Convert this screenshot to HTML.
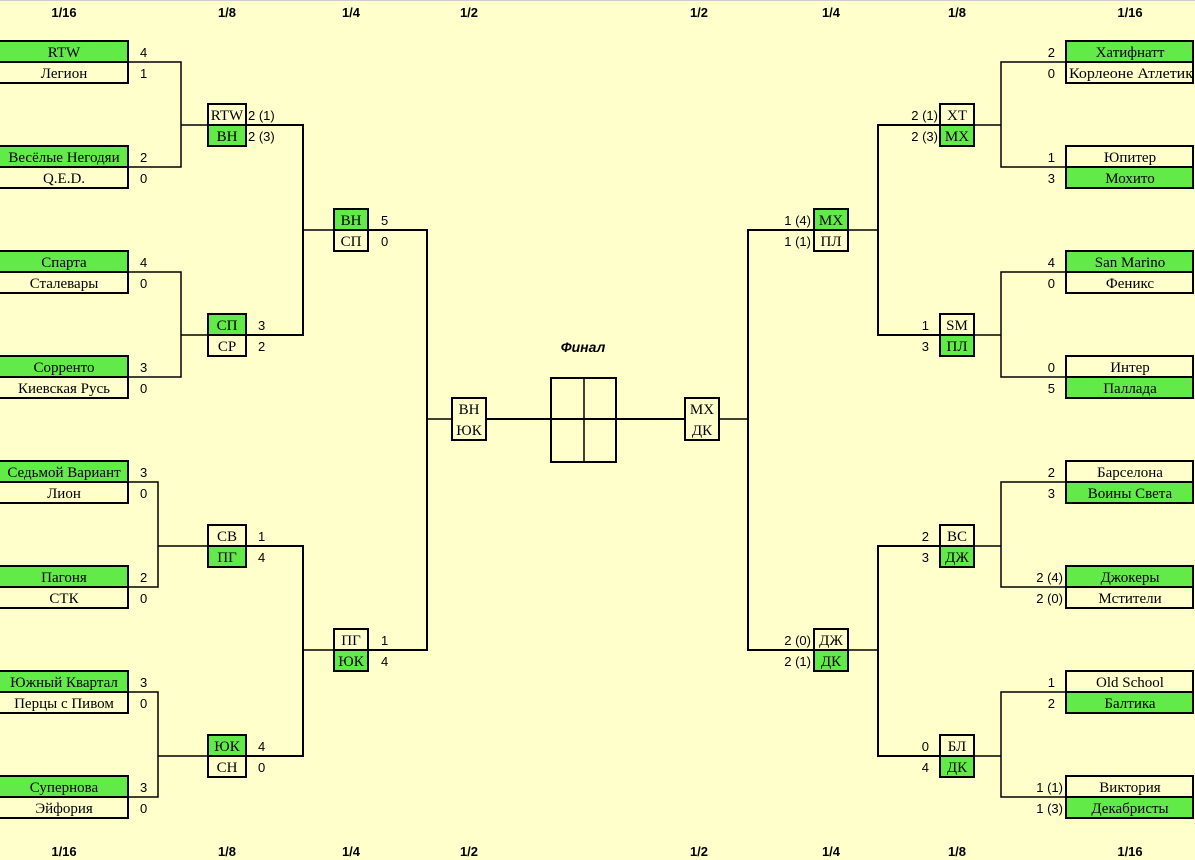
<!DOCTYPE html>
<html><head><meta charset="utf-8"><style>
html,body{margin:0;padding:0;background:#ffffcc;}
svg{display:block}
.n{font-family:"Liberation Serif","DejaVu Serif",serif;font-size:15px;fill:#000;text-anchor:middle}
.s{font-family:"Liberation Sans","DejaVu Sans",sans-serif;font-size:13px;fill:#000}
.h{font-family:"Liberation Sans","DejaVu Sans",sans-serif;font-size:13px;font-weight:bold;fill:#000;text-anchor:middle}
.e{text-anchor:end}
</style></head><body>
<svg width="1195" height="860" viewBox="0 0 1195 860" xmlns="http://www.w3.org/2000/svg">
<rect x="0" y="0" width="1195" height="860" fill="#ffffcc"/>
<line x1="0" y1="0.5" x2="1195" y2="0.5" stroke="#ccc"/>
<g>
<text class="h" x="64" y="17">1/16</text><text class="h" x="227" y="17">1/8</text><text class="h" x="351" y="17">1/4</text><text class="h" x="469" y="17">1/2</text>
<text class="h" x="699" y="17">1/2</text><text class="h" x="831" y="17">1/4</text><text class="h" x="957" y="17">1/8</text><text class="h" x="1130" y="17">1/16</text>
<text class="h" x="64" y="856">1/16</text><text class="h" x="227" y="856">1/8</text><text class="h" x="351" y="856">1/4</text><text class="h" x="469" y="856">1/2</text>
<text class="h" x="699" y="856">1/2</text><text class="h" x="831" y="856">1/4</text><text class="h" x="957" y="856">1/8</text><text class="h" x="1130" y="856">1/16</text>
</g>
<g stroke="#000" fill="none" stroke-width="1.5">
<polyline points="128,62 181,62 181,167 128,167"/>
<polyline points="128,272 181,272 181,377 128,377"/>
<polyline points="128,482 158,482 158,587 128,587"/>
<polyline points="128,692 158,692 158,797 128,797"/>
<line x1="181" y1="125" x2="208" y2="125"/><line x1="181" y1="335" x2="208" y2="335"/>
<line x1="158" y1="546" x2="208" y2="546"/><line x1="158" y1="756" x2="208" y2="756"/>
<line x1="303" y1="230" x2="334" y2="230"/><line x1="303" y1="650" x2="334" y2="650"/>
<line x1="427" y1="419" x2="452" y2="419"/>
<polyline points="1066,62 1001,62 1001,167 1066,167"/>
<polyline points="1066,272 1001,272 1001,377 1066,377"/>
<polyline points="1066,482 1001,482 1001,587 1066,587"/>
<polyline points="1066,692 1001,692 1001,797 1066,797"/>
<line x1="974" y1="125" x2="1001" y2="125"/><line x1="974" y1="335" x2="1001" y2="335"/>
<line x1="974" y1="546" x2="1001" y2="546"/><line x1="974" y1="756" x2="1001" y2="756"/>
<line x1="848" y1="230" x2="878" y2="230"/><line x1="848" y1="650" x2="878" y2="650"/>
<line x1="719" y1="419" x2="748" y2="419"/>
</g>
<g stroke="#000" fill="none" stroke-width="2">
<polyline points="246,125 303,125 303,335 246,335"/>
<polyline points="246,546 303,546 303,756 246,756"/>
<polyline points="368,230 427,230 427,650 368,650"/>
<line x1="486" y1="419" x2="685" y2="419"/>
<polyline points="814,230 748,230 748,650 814,650"/>
<polyline points="940,125 878,125 878,335 940,335"/>
<polyline points="940,546 878,546 878,756 940,756"/>
</g>
<rect x="551" y="378" width="65" height="84" fill="none" stroke="#000" stroke-width="2"/>
<line x1="584" y1="378" x2="584" y2="462" stroke="#000" stroke-width="1.5"/>
<text x="583" y="352" style="font-family:'Liberation Sans',sans-serif;font-size:14px;font-weight:bold;font-style:italic;text-anchor:middle">Финал</text>

<g stroke="#000" stroke-width="2">
<rect x="-2" y="41" width="130" height="21" fill="#62ea48"/><rect x="-2" y="62" width="130" height="21" fill="#ffffcc"/>
<rect x="-2" y="146" width="130" height="21" fill="#62ea48"/><rect x="-2" y="167" width="130" height="21" fill="#ffffcc"/>
<rect x="-2" y="251" width="130" height="21" fill="#62ea48"/><rect x="-2" y="272" width="130" height="21" fill="#ffffcc"/>
<rect x="-2" y="356" width="130" height="21" fill="#62ea48"/><rect x="-2" y="377" width="130" height="21" fill="#ffffcc"/>
<rect x="-2" y="461" width="130" height="21" fill="#62ea48"/><rect x="-2" y="482" width="130" height="21" fill="#ffffcc"/>
<rect x="-2" y="566" width="130" height="21" fill="#62ea48"/><rect x="-2" y="587" width="130" height="21" fill="#ffffcc"/>
<rect x="-2" y="671" width="130" height="21" fill="#62ea48"/><rect x="-2" y="692" width="130" height="21" fill="#ffffcc"/>
<rect x="-2" y="776" width="130" height="21" fill="#62ea48"/><rect x="-2" y="797" width="130" height="21" fill="#ffffcc"/>
<rect x="208" y="104" width="38" height="21" fill="#ffffcc"/><rect x="208" y="125" width="38" height="21" fill="#62ea48"/>
<rect x="208" y="314" width="38" height="21" fill="#62ea48"/><rect x="208" y="335" width="38" height="21" fill="#ffffcc"/>
<rect x="208" y="525" width="38" height="21" fill="#ffffcc"/><rect x="208" y="546" width="38" height="21" fill="#62ea48"/>
<rect x="208" y="735" width="38" height="21" fill="#62ea48"/><rect x="208" y="756" width="38" height="21" fill="#ffffcc"/>
<rect x="334" y="209" width="34" height="21" fill="#62ea48"/><rect x="334" y="230" width="34" height="21" fill="#ffffcc"/>
<rect x="334" y="629" width="34" height="21" fill="#ffffcc"/><rect x="334" y="650" width="34" height="21" fill="#62ea48"/>
<rect x="452" y="398" width="34" height="42" fill="#ffffcc"/>
<rect x="685" y="398" width="34" height="42" fill="#ffffcc"/>
<rect x="814" y="209" width="34" height="21" fill="#62ea48"/><rect x="814" y="230" width="34" height="21" fill="#ffffcc"/>
<rect x="814" y="629" width="34" height="21" fill="#ffffcc"/><rect x="814" y="650" width="34" height="21" fill="#62ea48"/>
<rect x="940" y="104" width="34" height="21" fill="#ffffcc"/><rect x="940" y="125" width="34" height="21" fill="#62ea48"/>
<rect x="940" y="314" width="34" height="21" fill="#ffffcc"/><rect x="940" y="335" width="34" height="21" fill="#62ea48"/>
<rect x="940" y="525" width="34" height="21" fill="#ffffcc"/><rect x="940" y="546" width="34" height="21" fill="#62ea48"/>
<rect x="940" y="735" width="34" height="21" fill="#ffffcc"/><rect x="940" y="756" width="34" height="21" fill="#62ea48"/>
<rect x="1066" y="41" width="127" height="21" fill="#62ea48"/><rect x="1066" y="62" width="127" height="21" fill="#ffffcc"/>
<rect x="1066" y="146" width="127" height="21" fill="#ffffcc"/><rect x="1066" y="167" width="127" height="21" fill="#62ea48"/>
<rect x="1066" y="251" width="127" height="21" fill="#62ea48"/><rect x="1066" y="272" width="127" height="21" fill="#ffffcc"/>
<rect x="1066" y="356" width="127" height="21" fill="#ffffcc"/><rect x="1066" y="377" width="127" height="21" fill="#62ea48"/>
<rect x="1066" y="461" width="127" height="21" fill="#ffffcc"/><rect x="1066" y="482" width="127" height="21" fill="#62ea48"/>
<rect x="1066" y="566" width="127" height="21" fill="#62ea48"/><rect x="1066" y="587" width="127" height="21" fill="#ffffcc"/>
<rect x="1066" y="671" width="127" height="21" fill="#ffffcc"/><rect x="1066" y="692" width="127" height="21" fill="#62ea48"/>
<rect x="1066" y="776" width="127" height="21" fill="#ffffcc"/><rect x="1066" y="797" width="127" height="21" fill="#62ea48"/>
</g>

<g>
<text class="n" x="64" y="57">RTW</text><text class="n" x="64" y="78">Легион</text>
<text class="n" x="64" y="162">Весёлые Негодяи</text><text class="n" x="64" y="183">Q.E.D.</text>
<text class="n" x="64" y="267">Спарта</text><text class="n" x="64" y="288">Сталевары</text>
<text class="n" x="64" y="372">Сорренто</text><text class="n" x="64" y="393">Киевская Русь</text>
<text class="n" x="64" y="477">Седьмой Вариант</text><text class="n" x="64" y="498">Лион</text>
<text class="n" x="64" y="582">Пагоня</text><text class="n" x="64" y="603">СТК</text>
<text class="n" x="64" y="687">Южный Квартал</text><text class="n" x="64" y="708">Перцы с Пивом</text>
<text class="n" x="64" y="792">Супернова</text><text class="n" x="64" y="813">Эйфория</text>
<text class="n" x="227" y="120">RTW</text><text class="n" x="227" y="141">ВН</text>
<text class="n" x="227" y="330">СП</text><text class="n" x="227" y="351">СР</text>
<text class="n" x="227" y="541">СВ</text><text class="n" x="227" y="562">ПГ</text>
<text class="n" x="227" y="751">ЮК</text><text class="n" x="227" y="772">СН</text>
<text class="n" x="351" y="225">ВН</text><text class="n" x="351" y="246">СП</text>
<text class="n" x="351" y="645">ПГ</text><text class="n" x="351" y="666">ЮК</text>
<text class="n" x="469" y="414">ВН</text><text class="n" x="469" y="435">ЮК</text>
<text class="n" x="702" y="414">МХ</text><text class="n" x="702" y="435">ДК</text>
<text class="n" x="831" y="225">МХ</text><text class="n" x="831" y="246">ПЛ</text>
<text class="n" x="831" y="645">ДЖ</text><text class="n" x="831" y="666">ДК</text>
<text class="n" x="957" y="120">ХТ</text><text class="n" x="957" y="141">МХ</text>
<text class="n" x="957" y="330">SM</text><text class="n" x="957" y="351">ПЛ</text>
<text class="n" x="957" y="541">ВС</text><text class="n" x="957" y="562">ДЖ</text>
<text class="n" x="957" y="751">БЛ</text><text class="n" x="957" y="772">ДК</text>
<text class="n" x="1130" y="57">Хатифнатт</text><text class="n" x="1131" y="78" textLength="124" lengthAdjust="spacingAndGlyphs">Корлеоне Атлетик</text>
<text class="n" x="1130" y="162">Юпитер</text><text class="n" x="1130" y="183">Мохито</text>
<text class="n" x="1130" y="267">San Marino</text><text class="n" x="1130" y="288">Феникс</text>
<text class="n" x="1130" y="372">Интер</text><text class="n" x="1130" y="393">Паллада</text>
<text class="n" x="1130" y="477">Барселона</text><text class="n" x="1130" y="498">Воины Света</text>
<text class="n" x="1130" y="582">Джокеры</text><text class="n" x="1130" y="603">Мстители</text>
<text class="n" x="1130" y="687">Old School</text><text class="n" x="1130" y="708">Балтика</text>
<text class="n" x="1130" y="792">Виктория</text><text class="n" x="1130" y="813">Декабристы</text>
</g>
<g>
<text class="s" x="140" y="57">4</text><text class="s" x="140" y="78">1</text>
<text class="s" x="140" y="162">2</text><text class="s" x="140" y="183">0</text>
<text class="s" x="140" y="267">4</text><text class="s" x="140" y="288">0</text>
<text class="s" x="140" y="372">3</text><text class="s" x="140" y="393">0</text>
<text class="s" x="140" y="477">3</text><text class="s" x="140" y="498">0</text>
<text class="s" x="140" y="582">2</text><text class="s" x="140" y="603">0</text>
<text class="s" x="140" y="687">3</text><text class="s" x="140" y="708">0</text>
<text class="s" x="140" y="792">3</text><text class="s" x="140" y="813">0</text>
<text class="s" x="248" y="120">2 (1)</text><text class="s" x="248" y="141">2 (3)</text>
<text class="s" x="258" y="330">3</text><text class="s" x="258" y="351">2</text>
<text class="s" x="258" y="541">1</text><text class="s" x="258" y="562">4</text>
<text class="s" x="258" y="751">4</text><text class="s" x="258" y="772">0</text>
<text class="s" x="381" y="225">5</text><text class="s" x="381" y="246">0</text>
<text class="s" x="381" y="645">1</text><text class="s" x="381" y="666">4</text>
<text class="s e" x="811" y="225">1 (4)</text><text class="s e" x="811" y="246">1 (1)</text>
<text class="s e" x="811" y="645">2 (0)</text><text class="s e" x="811" y="666">2 (1)</text>
<text class="s e" x="938" y="120">2 (1)</text><text class="s e" x="938" y="141">2 (3)</text>
<text class="s e" x="929" y="330">1</text><text class="s e" x="929" y="351">3</text>
<text class="s e" x="929" y="541">2</text><text class="s e" x="929" y="562">3</text>
<text class="s e" x="929" y="751">0</text><text class="s e" x="929" y="772">4</text>
<text class="s e" x="1055" y="57">2</text><text class="s e" x="1055" y="78">0</text>
<text class="s e" x="1055" y="162">1</text><text class="s e" x="1055" y="183">3</text>
<text class="s e" x="1055" y="267">4</text><text class="s e" x="1055" y="288">0</text>
<text class="s e" x="1055" y="372">0</text><text class="s e" x="1055" y="393">5</text>
<text class="s e" x="1055" y="477">2</text><text class="s e" x="1055" y="498">3</text>
<text class="s e" x="1063" y="582">2 (4)</text><text class="s e" x="1063" y="603">2 (0)</text>
<text class="s e" x="1055" y="687">1</text><text class="s e" x="1055" y="708">2</text>
<text class="s e" x="1063" y="792">1 (1)</text><text class="s e" x="1063" y="813">1 (3)</text>
</g>
</svg>
</body></html>
